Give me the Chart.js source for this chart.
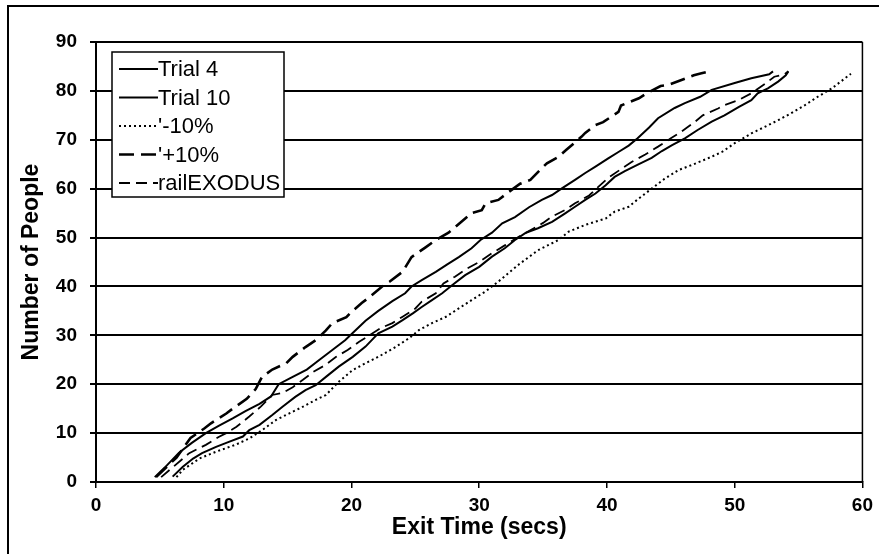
<!DOCTYPE html>
<html>
<head>
<meta charset="utf-8">
<script src="https://cdn.jsdelivr.net/npm/chart.js@4.4.1/dist/chart.umd.min.js"></script>
<style>
  html, body { margin: 0; padding: 0; background: #fff; }
  #wrap { width: 879px; height: 554px; position: relative; }
</style>
</head>
<body>
<div id="wrap"><canvas id="c" width="879" height="554"></canvas></div>
<script>
// ---- Data (exit time in secs, number of people) ----
const seriesNames = ["Trial 4", "Trial 10", "'-10%", "'+10%", "railEXODUS"];
const xTicks = [0, 10, 20, 30, 40, 50, 60];
const yTicks = [0, 10, 20, 30, 40, 50, 60, 70, 80, 90];

const trial4 = [[4.6,1],[5.4,3],[6.5,6],[7.5,8],[8.6,10],[9.6,11.5],[10.7,13],[11.7,14.5],[12.8,16],[13.7,17.5],[14.3,20],[15.4,21.5],[16.5,23],[17.5,25],[18.5,27],[19.5,29],[20.3,31],[21.1,33],[22.1,35],[23.2,37],[24.2,38.6],[24.7,40],[25.5,41.3],[26.6,43],[27.5,44.5],[28.4,46],[29.4,47.8],[30.1,49.5],[31,51],[31.8,52.9],[32.8,54.2],[33.9,56.2],[34.9,57.7],[35.7,58.7],[36.5,60.1],[37.5,61.8],[38.3,63.2],[39.1,64.5],[40.1,66.2],[40.9,67.5],[41.7,68.8],[42.4,70.3],[43.3,72.5],[44,74.4],[45.3,76.5],[46.1,77.5],[47.3,78.8],[48.2,80.2],[50,81.6],[51.3,82.6],[52.7,83.4],[53,84]];

const trial10 = [[6,1.1],[6.8,3.1],[7.6,4.8],[8.3,5.9],[9.4,7.2],[10.4,8.2],[11.5,9.3],[12,10.6],[12.8,11.7],[13.8,13.7],[14.6,15.4],[15.6,17.4],[16.4,18.8],[17.2,19.8],[18,21.5],[19,23.6],[20.1,25.6],[21.1,27.7],[22.1,30.4],[23.2,31.8],[24,33.1],[24.8,34.5],[25.5,35.8],[26.3,37.2],[27.1,38.6],[27.9,40.3],[28.9,42.3],[30,44],[31,46.1],[32,47.8],[32.8,49.5],[33.6,50.9],[34.6,51.9],[35.7,53.2],[36.7,54.9],[37.5,56.3],[38.3,57.7],[39.1,59],[39.9,60.7],[40.6,62.4],[41.4,63.6],[42.5,65],[43.5,66.3],[44.3,67.7],[45.1,68.9],[46.1,70.3],[47.1,72],[48.2,73.7],[49.2,75],[50.3,76.7],[51.3,78.1],[51.8,79.5],[52.6,80.5],[53.4,81.9],[54,83.2],[54.2,84]];

const minus10 = [[6.3,1],[6.8,2.5],[8.1,4.8],[9.4,6.2],[10.9,7.6],[12,8.9],[13,10.6],[14.1,12.7],[15.1,14],[16.2,15.4],[17.2,16.8],[18,17.8],[19,20.5],[20.1,22.9],[21.1,24.3],[22.1,25.6],[23.5,27.7],[24.5,29.4],[25.3,31.1],[26.3,32.5],[27.4,33.8],[28.4,35.5],[29.4,37.2],[30.5,39],[31.5,41],[33.1,44.5],[34.6,47.4],[36.2,49.5],[37,51.2],[38.3,52.6],[39.9,53.9],[40.6,55.3],[41.7,56.3],[42.5,58],[43.5,60],[44.5,62],[45.6,63.8],[46.6,64.8],[47.9,66.2],[49,67.5],[50,69.3],[51.3,71.3],[52.4,72.7],[53.4,74],[54.4,75.4],[55.5,77.1],[56.5,78.8],[57.6,80.5],[59.1,83.5]];

const plus10 = [[4.7,1],[6.3,5],[7.4,9],[8.5,11],[9,12],[10.2,14],[10.7,15],[11.8,17],[12.5,19],[13,21.5],[13.8,23],[14.9,24.3],[15.4,25.6],[16.4,27.6],[17.2,29],[18,31],[18.5,32.5],[19.6,33.7],[20,34.8],[20.8,36.6],[21.4,37.8],[22.4,40],[23,41],[24,43],[24.7,46],[25.8,48],[26.6,49.5],[27.6,51],[29.4,55],[30.2,55.6],[30.5,57],[31.5,57.7],[32.3,59.3],[33.2,61],[34,61.8],[34.9,64.2],[35.3,65.2],[36.2,66.5],[36.8,67.9],[38,70.6],[38.3,71.4],[39.1,73],[39.7,73.6],[40.9,75.7],[41.1,77],[42.5,78.5],[43.1,79.5],[44.2,81],[44.8,81.2],[46.2,82.6],[46.8,83.2],[47.4,83.6],[48,84]];

const railExodus = [[5.1,1],[6,3],[7.3,5.9],[8.6,7.6],[9.6,9.2],[10.2,10],[11,11.3],[12,13.4],[12.9,15.4],[13.8,17.8],[14.6,18.2],[15.4,19.4],[16.2,20.9],[17,22.5],[18,24],[18.8,25.6],[19.7,27],[20.6,28.7],[21.4,30],[22.3,31.5],[23.2,32.5],[24,33.8],[25,35.5],[25.5,36.9],[26.6,38.6],[27.2,40.6],[28.1,42],[29,43.6],[30,45],[31,46.8],[32,48.4],[33,50],[34,51.5],[35,53],[35.7,54.3],[36.7,55.6],[37.5,57],[38.6,58.6],[39.3,60.3],[40.1,62.2],[41.1,64],[41.9,65.4],[43,67],[44,68.6],[45,70.3],[45.8,71.6],[46.9,73.7],[47.5,75],[48.7,76.4],[49.2,77.1],[50.3,78.1],[51.3,79.5],[52.4,81.5],[53.1,82.9],[53.9,83.4],[54.2,84]];

const toXY = arr => arr.map(p => ({x: p[0], y: p[1]}));

const styles = [
  {borderWidth: 2, borderDash: []},
  {borderWidth: 2, borderDash: []},
  {borderWidth: 2, borderDash: [2, 3]},
  {borderWidth: 2.6, borderDash: [15, 7]},
  {borderWidth: 1.8, borderDash: [11, 6]}
];
const seriesData = [trial4, trial10, minus10, plus10, railExodus];

const datasets = seriesNames.map((name, i) => ({
  label: name,
  data: toXY(seriesData[i]),
  borderColor: '#000',
  backgroundColor: '#000',
  borderWidth: styles[i].borderWidth,
  borderDash: styles[i].borderDash,
  pointRadius: 0,
  tension: 0,
  fill: false
}));

const framePlugin = {
  id: 'frame',
  beforeDraw(chart) {
    const ctx = chart.ctx;
    ctx.save();
    ctx.fillStyle = '#fff';
    ctx.fillRect(0, 0, chart.width, chart.height);
    ctx.strokeStyle = '#000';
    ctx.lineWidth = 2;
    ctx.beginPath();
    ctx.moveTo(8, 554);
    ctx.lineTo(8, 6);
    ctx.lineTo(879, 6);
    ctx.stroke();
    ctx.restore();
  },
  afterDatasetsDraw(chart) {
    const ctx = chart.ctx;
    const a = chart.chartArea;
    ctx.save();
    ctx.strokeStyle = '#000';
    ctx.lineWidth = 1.5;
    ctx.beginPath();
    ctx.moveTo(a.right, a.top);
    ctx.lineTo(a.right, a.bottom);
    ctx.stroke();
    ctx.restore();
  }
};

const legendPlugin = {
  id: 'insideLegend',
  afterDraw(chart) {
    const ctx = chart.ctx;
    const bx = 112, by = 52, bw = 172, bh = 145;
    ctx.save();
    ctx.fillStyle = '#fff';
    ctx.fillRect(bx, by, bw, bh);
    ctx.strokeStyle = '#000';
    ctx.lineWidth = 1.5;
    ctx.strokeRect(bx, by, bw, bh);
    ctx.font = '22px "Liberation Sans", Arial, sans-serif';
    ctx.textBaseline = 'middle';
    ctx.fillStyle = '#000';
    chart.data.datasets.forEach((ds, i) => {
      const y = by + 17 + i * 28.5;
      ctx.beginPath();
      ctx.lineWidth = ds.borderWidth;
      ctx.setLineDash(ds.borderDash || []);
      ctx.moveTo(119, y);
      ctx.lineTo(158, y);
      ctx.stroke();
      ctx.setLineDash([]);
      ctx.fillText(ds.label, 158, y + 1);
    });
    ctx.restore();
  }
};

const tickFont = {family: '"Liberation Sans", Arial, sans-serif', size: 19, weight: 'bold'};
const titleFont = {family: '"Liberation Sans", Arial, sans-serif', size: 23, weight: 'bold'};

new Chart(document.getElementById('c'), {
  type: 'line',
  data: { datasets },
  options: {
    responsive: false,
    animation: false,
    devicePixelRatio: 1,
    layout: { padding: { left: 0, top: 42, right: 15, bottom: 0 } },
    plugins: { legend: { display: false }, tooltip: { enabled: false } },
    scales: {
      x: {
        type: 'linear',
        min: xTicks[0], max: xTicks[xTicks.length - 1],
        afterBuildTicks: s => { s.ticks = xTicks.map(v => ({value: v})); },
        ticks: { color: '#000', font: tickFont, padding: 6, maxRotation: 0 },
        grid: { drawOnChartArea: false, drawTicks: true, tickLength: 6, color: '#000', lineWidth: 1.5 },
        border: { display: true, color: '#000', width: 2 },
        title: { display: true, text: 'Exit Time (secs)', color: '#000', font: titleFont, padding: { top: 0, bottom: 13 } },
        afterFit: s => { s.height = 72; }
      },
      y: {
        type: 'linear',
        min: yTicks[0], max: yTicks[yTicks.length - 1],
        afterBuildTicks: s => { s.ticks = yTicks.map(v => ({value: v})); },
        ticks: { color: '#000', font: tickFont, padding: 13 },
        grid: { color: '#000', lineWidth: 2, drawTicks: true, tickLength: 6 },
        border: { display: true, color: '#000', width: 2 },
        title: { display: true, text: 'Number of People', color: '#000', font: titleFont, padding: { top: 18, bottom: 0 } },
        afterFit: s => { s.width = 96; }
      }
    }
  },
  plugins: [framePlugin, legendPlugin]
});
</script>
</body>
</html>
